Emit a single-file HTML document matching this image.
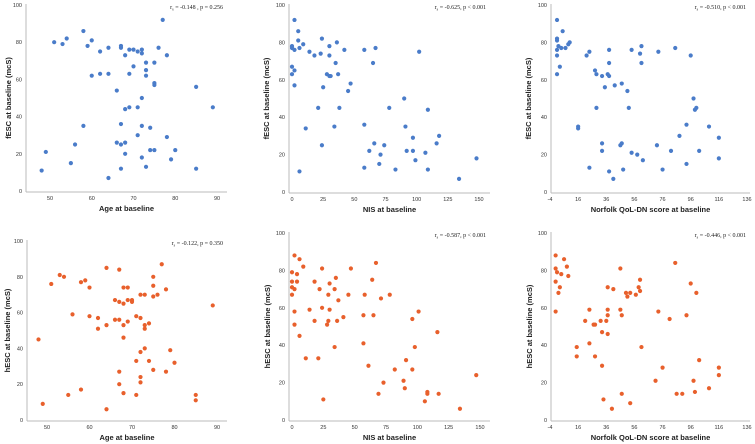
<!DOCTYPE html>
<html><head><meta charset="utf-8"><style>
html,body{margin:0;padding:0;background:#fff;}
svg{display:block;font-family:"Liberation Sans",sans-serif;}
.tk{font-size:5.5px;fill:#333;}
.at{font-size:7.5px;font-weight:bold;fill:#222;}
.an{font-family:"Liberation Serif",serif;font-size:6px;fill:#222;}
</style></head><body>
<svg id="chart" width="755" height="444" viewBox="0 0 755 444"></svg>
<script>
const ageF_x=[77,58,54,51,53,60,59,62,64,67,67,69,70,71,72,72,68,76,78,73,75,70,73,73,60,62,64,69,75,75,66,85,72,69,71,68,89,58,67,72,74,71,78,66,68,67,56,49,74,75,80,68,72,79,55,73,67,85,48,64];
const ageF_y=[92,86,82,80,79,81,78,75,77,78,77,76,76,75,76,74,73,77,73,69,69,67,65,62,62,63,63,63,58,57,54,56,50,45,45,44,45,35,36,35,34,30,29,26,26,25,25,21,22,22,22,20,18,17,15,13,12,12,11,7];
const nisF_x=[2,5,5,24,36,9,0,0,6,2,14,23,18,30,30,42,58,67,102,35,65,0,2,0,28,30,31,37,47,25,45,2,21,38,78,90,109,11,34,58,91,97,118,24,66,74,116,62,92,97,107,71,99,148,70,58,83,109,6,134];
const nisF_y=[92,86,81,82,80,79,78,77,77,76,75,74,73,78,73,76,76,77,75,69,69,67,65,63,63,62,62,63,58,56,54,57,45,45,45,50,44,34,35,36,35,29,30,25,26,25,26,22,22,22,21,20,17,18,15,13,12,12,11,7];
const nqF_x=[1,5,1,1,10,9,2,4,7,1,1,3,1,24,22,38,54,61,60,61,73,85,96,38,28,29,33,37,38,47,42,35,51,98,100,99,29,52,16,16,93,109,88,116,33,47,46,72,33,82,102,54,58,62,116,93,24,38,48,76,41];
const nqF_y=[92,86,82,81,80,79,78,77,77,76,73,67,63,75,73,76,76,78,74,69,75,77,73,69,65,63,62,63,62,58,57,56,54,50,45,44,45,45,35,34,36,35,30,29,26,26,25,25,22,22,22,21,20,17,18,15,13,11,12,12,7];
const ageH_x=[77,64,67,53,54,51,58,59,60,75,75,68,69,78,72,73,76,75,66,67,68,69,70,70,89,56,60,62,71,72,66,67,69,74,64,68,73,62,73,68,48,73,72,79,71,74,80,75,67,78,72,67,72,58,68,55,71,85,85,49,64];
const ageH_y=[87,85,84,81,80,76,77,78,74,80,75,74,74,73,70,70,70,69,67,66,65,67,67,66,64,59,58,57,58,57,56,56,55,54,53,53,53,51,51,46,45,40,38,39,33,33,32,28,27,27,24,20,21,17,15,14,14,14,11,9,6];
const nisH_x=[2,6,9,24,47,67,0,4,0,4,18,0,2,0,22,30,35,34,64,29,45,58,78,71,37,2,14,24,30,101,2,18,28,29,36,41,57,65,96,6,116,57,34,98,11,21,91,61,82,96,89,73,147,90,69,108,108,117,106,25,134];
const nisH_y=[88,86,82,81,81,84,79,78,74,74,74,71,70,67,70,73,76,70,75,67,67,67,67,65,64,58,59,60,59,58,51,53,51,53,53,55,56,56,54,45,47,41,39,39,33,33,32,29,27,27,21,20,24,17,14,15,14,14,10,11,6];
const nqH_x=[0,6,0,8,1,4,9,0,3,2,0,46,85,96,100,60,37,41,59,60,50,53,57,51,46,47,37,37,24,21,32,36,27,28,33,37,73,81,93,61,15,15,24,28,33,76,102,116,116,71,98,109,86,90,99,47,34,53,40];
const nqH_y=[88,86,81,82,79,78,77,74,71,68,58,81,84,73,68,75,71,70,71,69,68,68,67,66,59,56,59,56,59,53,53,53,51,51,47,46,58,54,56,39,39,34,41,34,29,28,32,28,24,21,21,17,14,14,15,14,11,9,6];

const xTicksAge=[50,60,70,80,90];
const xTicksNis=[0,25,50,75,100,125,150];
const xTicksNq=[-4,16,36,56,76,96,116,136];
const yTicks=[0,20,40,60,80,100];

const BLUE="#4a7cc9", ORANGE="#e8602c";
const panels=[
 {id:"age-fesc",xs:ageF_x,ys:ageF_y,xt:xTicksAge,ax:26,xa:[50,90],xp:[50,217],xe:227,yp:[191,5],col:BLUE,xl:"Age at baseline",yl:"fESC at baseline (mcS)",ann:" = -0.148 , p = 0.256",yti:11},
 {id:"nis-fesc",xs:nisF_x,ys:nisF_y,xt:xTicksNis,ax:289,xa:[0,150],xp:[292,479],xe:490,yp:[192,5],col:BLUE,xl:"NIS at baseline",yl:"fESC at baseline (mcS)",ann:" = -0.625, p < 0.001",yti:269},
 {id:"norfolk-fesc",xs:nqF_x,ys:nqF_y,xt:xTicksNq,ax:551,xa:[-4,136],xp:[550,747],xe:750,yp:[192,5],col:BLUE,xl:"Norfolk QoL-DN score at baseline",yl:"fESC at baseline (mcS)",ann:" = -0.510, p < 0.001",yti:531},
 {id:"age-hesc",xs:ageH_x,ys:ageH_y,xt:xTicksAge,ax:27,xa:[50,90],xp:[47,217],xe:227,yp:[420,241],col:ORANGE,xl:"Age at baseline",yl:"hESC at baseline (mcS)",ann:" = -0.122, p = 0.350",yti:10},
 {id:"nis-hesc",xs:nisH_x,ys:nisH_y,xt:xTicksNis,ax:289,xa:[0,150],xp:[292,480],xe:490,yp:[420,233],col:ORANGE,xl:"NIS at baseline",yl:"hESC at baseline (mcS)",ann:" = -0.587, p < 0.001",yti:270},
 {id:"norfolk-hesc",xs:nqH_x,ys:nqH_y,xt:xTicksNq,ax:551,xa:[-4,136],xp:[550,747],xe:750,yp:[420,233],col:ORANGE,xl:"Norfolk QoL-DN score at baseline",yl:"hESC at baseline (mcS)",ann:" = -0.446, p < 0.001",yti:532}
];
const NS="http://www.w3.org/2000/svg";
const svg=document.getElementById("chart");
function mk(tag,attrs,parent){const e=document.createElementNS(NS,tag);for(const k in attrs)e.setAttribute(k,attrs[k]);parent.appendChild(e);return e;}
panels.forEach(p=>{
  const g=mk("g",{},svg);
  
  
  const sx=v=>p.xp[0]+(v-p.xa[0])*(p.xp[1]-p.xp[0])/(p.xa[1]-p.xa[0]);
  const sy=v=>p.yp[0]+(v)*(p.yp[1]-p.yp[0])/100;
  const base=p.yp[0]+1;
  const ya=mk("line",{x1:p.ax,y1:p.yp[1]-1,x2:p.ax,y2:base,stroke:"#bbb","stroke-width":1},g);
  
  
  const xa=mk("line",{x1:p.ax,y1:base,x2:p.xe,y2:base,stroke:"#bbb","stroke-width":1},g);
  
  
  yTicks.forEach(t=>{
    const tx=mk("text",{x:p.ax-4,y:sy(t)+2,"text-anchor":"end",class:"tk"},g);
    tx.textContent=t;
    
    
  });
  p.xt.forEach(t=>{
    const tx=mk("text",{x:sx(t),y:base+8,"text-anchor":"middle",class:"tk"},g);
    tx.textContent=t;
    
    
  });
  const xl=mk("text",{x:(p.ax+p.xe)/2,y:base+19,"text-anchor":"middle",class:"at"},g);
  xl.textContent=p.xl;
  
  
  const cy=(p.yp[0]+p.yp[1])/2;
  const yl=mk("text",{x:p.yti,y:cy,"text-anchor":"middle",class:"at",transform:`rotate(-90 ${p.yti} ${cy})`},g);
  yl.textContent=p.yl;
  
  
  const an=mk("text",{x:p.xe-4,y:p.yp[1]+4,"text-anchor":"end",class:"an"},g);
  
  
  const t1=mk("tspan",{},an); t1.textContent="r";
  const t2=mk("tspan",{dy:1.5,"font-size":"4px"},an); t2.textContent="s";
  const t3=mk("tspan",{dy:-1.5},an); t3.textContent=p.ann;
  p.xs.forEach((v,i)=>{
    const c=mk("circle",{cx:sx(v),cy:sy(p.ys[i]),r:2.1,fill:p.col},g);
    
    
  });
});
</script>
</body></html>
